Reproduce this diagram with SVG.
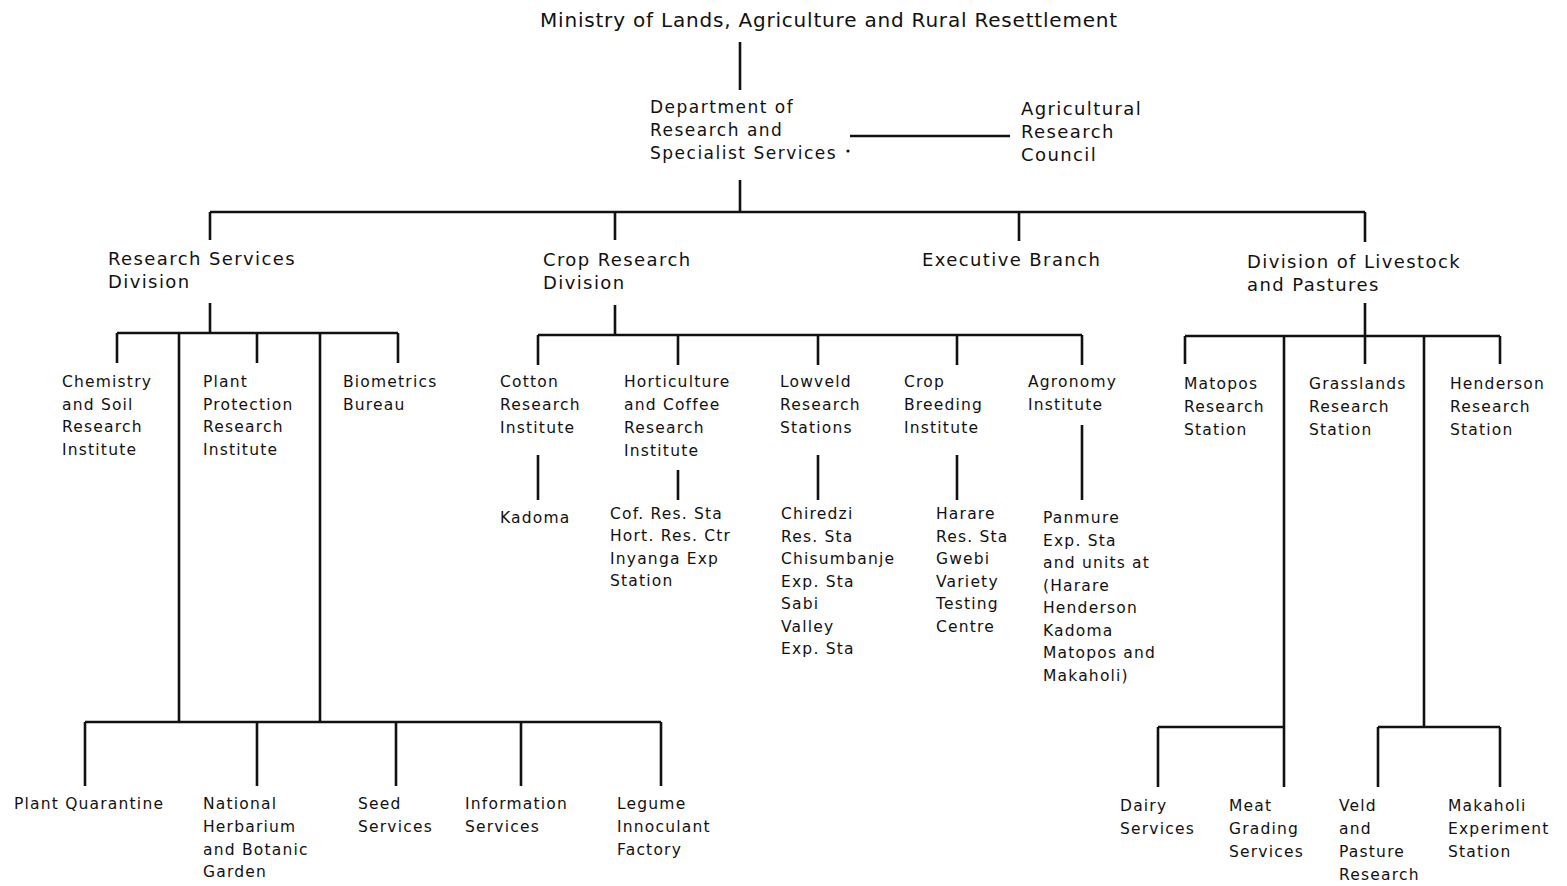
<svg xmlns="http://www.w3.org/2000/svg" width="1567" height="886" viewBox="0 0 1567 886">
<style>
text{font-family:"DejaVu Sans","Noto Sans",sans-serif;fill:#111}
.t0{font-size:20px;letter-spacing:0.8px}
.t1{font-size:18px;letter-spacing:1.4px}
.t2{font-size:17px;letter-spacing:1.5px}
.s{font-size:15.5px;letter-spacing:1.2px}
#connectors path{fill:none;stroke:#111;stroke-width:2.6}
</style>
<rect width="1567" height="886" fill="#fff"/>
<g id="connectors">
<path d="M740 42V90"/>
<path d="M850 136H1010"/>
<path d="M740 180V212M210 212H1365M210 212V240M615 212V240M1019 212V241M1365 212V242"/>
<path d="M210 303V333M117 333H398M117 333V363M257 333V363M398 333V363M179 333V722M320 333V722"/>
<path d="M85 722H661M85 722V786M257 722V786M396 722V786M521 722V786M661 722V786"/>
<path d="M615 305V335M538 335H1082M538 335V365M678 335V365M818 335V365M957 335V365M1082 335V365"/>
<path d="M538 455V500M678 470V500M818 455V500M957 455V500M1082 425V500"/>
<path d="M1365 303V336M1185 336H1500M1185 336V364M1365 336V364M1500 336V364M1284 336V787M1424 336V727"/>
<path d="M1158 727H1284M1158 727V787M1378 727H1500M1378 727V787M1500 727V787"/>
</g>
<g id="ministry"><text class="t0" x="540" y="27">Ministry of Lands, Agriculture and Rural Resettlement</text></g>
<g id="dept"><text class="t2" x="650" y="113">Department of</text><text class="t2" x="650" y="136">Research and</text><text class="t2" x="650" y="159">Specialist Services</text><circle cx="848" cy="151" r="1.6" fill="#111"/></g>
<g id="arc"><text class="t1" x="1021" y="115">Agricultural</text><text class="t1" x="1021" y="138">Research</text><text class="t1" x="1021" y="161">Council</text></g>
<g id="rsd"><text class="t1" x="108" y="265">Research Services</text><text class="t1" x="108" y="288">Division</text></g>
<g id="crd"><text class="t1" x="543" y="266">Crop Research</text><text class="t1" x="543" y="289">Division</text></g>
<g id="exec"><text class="t1" x="922" y="266">Executive Branch</text></g>
<g id="dlp"><text class="t1" x="1247" y="268">Division of Livestock</text><text class="t1" x="1247" y="291">and Pastures</text></g>
<g id="chem"><text class="s" x="62" y="387">Chemistry</text><text class="s" x="62" y="410">and Soil</text><text class="s" x="62" y="432">Research</text><text class="s" x="62" y="455">Institute</text></g>
<g id="ppri"><text class="s" x="203" y="387">Plant</text><text class="s" x="203" y="410">Protection</text><text class="s" x="203" y="432">Research</text><text class="s" x="203" y="455">Institute</text></g>
<g id="biom"><text class="s" x="343" y="387">Biometrics</text><text class="s" x="343" y="410">Bureau</text></g>
<g id="pq"><text class="s" x="14" y="809">Plant Quarantine</text></g>
<g id="nhbg"><text class="s" x="203" y="809">National</text><text class="s" x="203" y="832">Herbarium</text><text class="s" x="203" y="855">and Botanic</text><text class="s" x="203" y="877">Garden</text></g>
<g id="seed"><text class="s" x="358" y="809">Seed</text><text class="s" x="358" y="832">Services</text></g>
<g id="info"><text class="s" x="465" y="809">Information</text><text class="s" x="465" y="832">Services</text></g>
<g id="legume"><text class="s" x="617" y="809">Legume</text><text class="s" x="617" y="832">Innoculant</text><text class="s" x="617" y="855">Factory</text></g>
<g id="cotton"><text class="s" x="500" y="387">Cotton</text><text class="s" x="500" y="410">Research</text><text class="s" x="500" y="433">Institute</text></g>
<g id="hort"><text class="s" x="624" y="387">Horticulture</text><text class="s" x="624" y="410">and Coffee</text><text class="s" x="624" y="433">Research</text><text class="s" x="624" y="456">Institute</text></g>
<g id="lowveld"><text class="s" x="780" y="387">Lowveld</text><text class="s" x="780" y="410">Research</text><text class="s" x="780" y="433">Stations</text></g>
<g id="cbi"><text class="s" x="904" y="387">Crop</text><text class="s" x="904" y="410">Breeding</text><text class="s" x="904" y="433">Institute</text></g>
<g id="agro"><text class="s" x="1028" y="387">Agronomy</text><text class="s" x="1028" y="410">Institute</text></g>
<g id="kadoma"><text class="s" x="500" y="523">Kadoma</text></g>
<g id="cof"><text class="s" x="610" y="519">Cof. Res. Sta</text><text class="s" x="610" y="541">Hort. Res. Ctr</text><text class="s" x="610" y="564">Inyanga Exp</text><text class="s" x="610" y="586">Station</text></g>
<g id="chiredzi"><text class="s" x="781" y="519">Chiredzi</text><text class="s" x="781" y="542">Res. Sta</text><text class="s" x="781" y="564">Chisumbanje</text><text class="s" x="781" y="587">Exp. Sta</text><text class="s" x="781" y="609">Sabi</text><text class="s" x="781" y="632">Valley</text><text class="s" x="781" y="654">Exp. Sta</text></g>
<g id="harare"><text class="s" x="936" y="519">Harare</text><text class="s" x="936" y="542">Res. Sta</text><text class="s" x="936" y="564">Gwebi</text><text class="s" x="936" y="587">Variety</text><text class="s" x="936" y="609">Testing</text><text class="s" x="936" y="632">Centre</text></g>
<g id="panmure"><text class="s" x="1043" y="523">Panmure</text><text class="s" x="1043" y="546">Exp. Sta</text><text class="s" x="1043" y="568">and units at</text><text class="s" x="1043" y="591">(Harare</text><text class="s" x="1043" y="613">Henderson</text><text class="s" x="1043" y="636">Kadoma</text><text class="s" x="1043" y="658">Matopos and</text><text class="s" x="1043" y="681">Makaholi)</text></g>
<g id="matopos"><text class="s" x="1184" y="389">Matopos</text><text class="s" x="1184" y="412">Research</text><text class="s" x="1184" y="435">Station</text></g>
<g id="grass"><text class="s" x="1309" y="389">Grasslands</text><text class="s" x="1309" y="412">Research</text><text class="s" x="1309" y="435">Station</text></g>
<g id="hend"><text class="s" x="1450" y="389">Henderson</text><text class="s" x="1450" y="412">Research</text><text class="s" x="1450" y="435">Station</text></g>
<g id="dairy"><text class="s" x="1120" y="811">Dairy</text><text class="s" x="1120" y="834">Services</text></g>
<g id="meat"><text class="s" x="1229" y="811">Meat</text><text class="s" x="1229" y="834">Grading</text><text class="s" x="1229" y="857">Services</text></g>
<g id="veld"><text class="s" x="1339" y="811">Veld</text><text class="s" x="1339" y="834">and</text><text class="s" x="1339" y="857">Pasture</text><text class="s" x="1339" y="880">Research</text></g>
<g id="makaholi"><text class="s" x="1448" y="811">Makaholi</text><text class="s" x="1448" y="834">Experiment</text><text class="s" x="1448" y="857">Station</text></g>
</svg>
